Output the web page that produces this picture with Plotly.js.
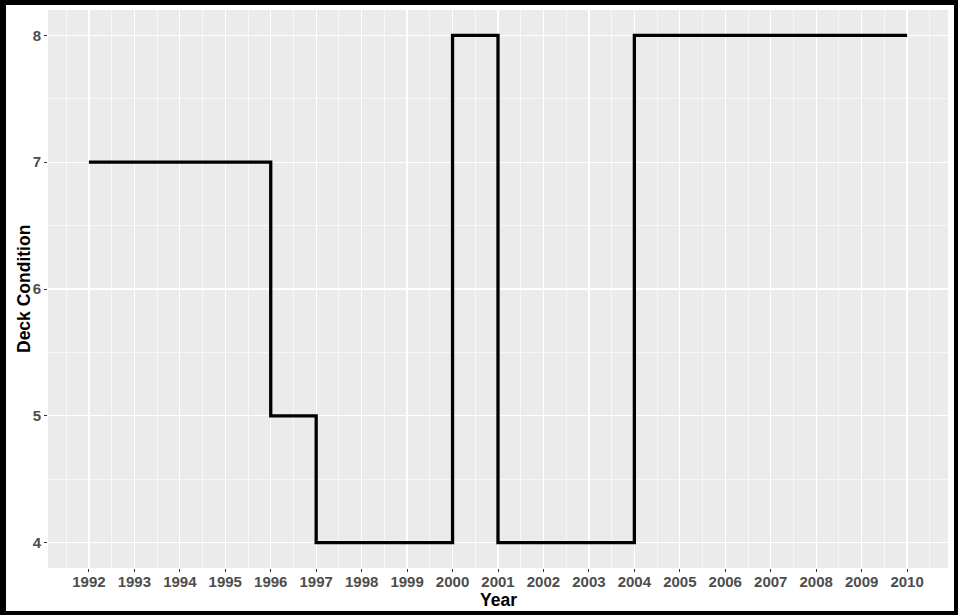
<!DOCTYPE html>
<html>
<head>
<meta charset="utf-8">
<script src="https://cdn.plot.ly/plotly-3.0.1.min.js"></script>
<style>
  html, body { margin: 0; padding: 0; background: #fff; }
  #chart { width: 958px; height: 616px; position: relative; }
  #frame { position: absolute; left: 0; top: 0; width: 958px; height: 615px; box-sizing: border-box;
           border-left: 6px solid #000; border-top: 5px solid #000; border-right: 4px solid #000; border-bottom: 4px solid #000;
           pointer-events: none; }
</style>
</head>
<body>
<div id="chart"></div>
<div id="frame"></div>
<script>
const years = [1992, 1993, 1994, 1995, 1996, 1997, 1998, 1999, 2000, 2001, 2002, 2003, 2004, 2005, 2006, 2007, 2008, 2009, 2010];
const deckCondition = [7, 7, 7, 7, 5, 4, 4, 4, 8, 4, 4, 4, 8, 8, 8, 8, 8, 8, 8];
const yTicks = [4, 5, 6, 7, 8];
const xTitle = 'Year';
const yTitle = 'Deck Condition';

const trace = {
  x: years,
  y: deckCondition,
  type: 'scatter',
  mode: 'lines',
  line: { shape: 'hv', color: '#000000', width: 3.3 },
  hoverinfo: 'x+y'
};

const tickFont = { family: 'Liberation Sans, Arial, sans-serif', size: 15, color: '#4d4d4d', weight: 'bold' };
const titleFont = { family: 'Liberation Sans, Arial, sans-serif', size: 17.5, color: '#000000', weight: 'bold' };

const layout = {
  width: 958,
  height: 616,
  margin: { l: 48, r: 10, t: 10, b: 48 },
  paper_bgcolor: '#ffffff',
  plot_bgcolor: '#ebebeb',
  showlegend: false,
  xaxis: {
    range: [1991.1, 2010.9],
    tickvals: years,
    ticktext: years.map(String),
    tickfont: tickFont,
    ticks: 'outside', ticklen: 3, tickwidth: 1, tickcolor: '#333333',
    ticklabelstandoff: -3,
    showgrid: true, gridcolor: '#ffffff', gridwidth: 1.3,
    minor: { tick0: 1991.5, dtick: 1, showgrid: true, gridcolor: '#ffffff', gridwidth: 0.6, ticks: '' },
    zeroline: false, showline: false,
    automargin: false,
    fixedrange: true
  },
  yaxis: {
    range: [3.8, 8.2],
    tickvals: yTicks,
    ticktext: yTicks.map(String),
    tickfont: tickFont,
    ticks: 'outside', ticklen: 3, tickwidth: 1, tickcolor: '#333333',
    showgrid: true, gridcolor: '#ffffff', gridwidth: 1.3,
    minor: { tick0: 4.5, dtick: 1, showgrid: true, gridcolor: '#ffffff', gridwidth: 0.6, ticks: '' },
    zeroline: false, showline: false,
    automargin: false,
    fixedrange: true
  },
  annotations: [
    { text: xTitle, xref: 'paper', yref: 'paper', x: 0.5, y: 0, xanchor: 'center', yanchor: 'middle',
      yshift: -32, showarrow: false, font: titleFont },
    { text: yTitle, xref: 'paper', yref: 'paper', x: 0, y: 0.5, xanchor: 'center', yanchor: 'middle',
      xshift: -24, textangle: -90, showarrow: false, font: titleFont }
  ]
};

Plotly.newPlot('chart', [trace], layout, { displayModeBar: false, staticPlot: true });
</script>
</body>
</html>
